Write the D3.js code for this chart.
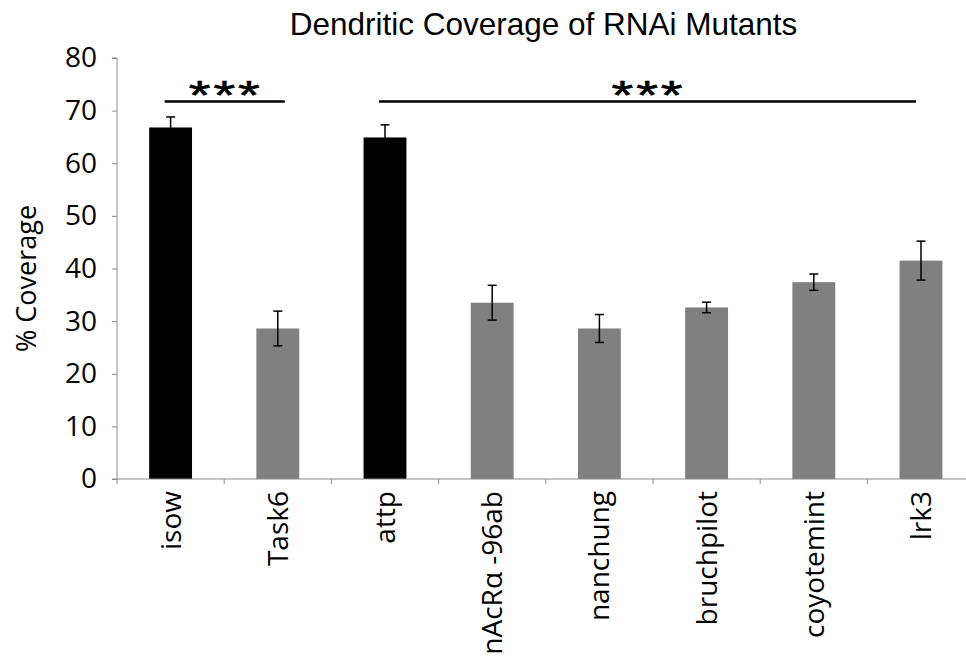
<!DOCTYPE html>
<html><head><meta charset="utf-8">
<script src="https://cdn.jsdelivr.net/npm/d3@7"></script>
<style>body{margin:0;background:#fff}svg{display:block}</style>
</head><body>
<script>
const categories = ["isow","Task6","attp","nAcRα -96ab","nanchung","bruchpilot","coyotemint","lrk3"];
const values = [66.8, 28.6, 64.9, 33.5, 28.6, 32.6, 37.4, 41.5];
const errors = [2.0, 3.3, 2.4, 3.3, 2.65, 1.0, 1.55, 3.7];
const colors = ["#000000","#808080","#000000","#808080","#808080","#808080","#808080","#808080"];
const yTicks = [0,10,20,30,40,50,60,70,80];
const sigGroups = [{from:"isow", to:"Task6", label:"***"}, {from:"attp", to:"lrk3", label:"***"}];
const title = "Dendritic Coverage of RNAi Mutants";
const yTitle = "% Coverage";

const W = 966, H = 662;
const svg = d3.select("body").append("svg").attr("width", W).attr("height", H);
const x0 = 117, yBase = 479, yTop = 58, bandW = 107.2;
const x = d3.scaleBand().domain(categories).range([x0, x0 + bandW*categories.length]).paddingInner(0.6).paddingOuter(0.3);
const y = d3.scaleLinear().domain([0, 80]).range([yBase, yTop]);
const cx = d => x(d) + x.bandwidth()/2;

// bars
svg.selectAll("rect.bar").data(categories).join("rect")
  .attr("x", d => x(d)).attr("width", x.bandwidth())
  .attr("y", (d,i) => y(values[i])).attr("height", (d,i) => yBase - y(values[i]))
  .attr("fill", (d,i) => colors[i]);

// y axis
const yAxis = d3.axisLeft(y).tickValues(yTicks).tickSize(5).tickPadding(15);
const gy = svg.append("g").attr("transform", `translate(${x0},0)`).call(yAxis);
gy.select(".domain").attr("stroke", "#8c8c8c").attr("d", `M-5,${yTop}H0V${yBase}`);
gy.selectAll(".tick line").attr("stroke", "#8c8c8c");
gy.selectAll(".tick text").attr("font-family", "'Open Sans', sans-serif").attr("font-size", 28).attr("fill", "#000");

// x axis
const bounds = d3.range(categories.length + 1).map(i => x0 + i*bandW);
const gx = svg.append("g");
gx.append("line").attr("x1", x0 - 5).attr("x2", bounds[bounds.length-1]).attr("y1", yBase).attr("y2", yBase).attr("stroke", "#8c8c8c");
gx.selectAll("line.t").data(bounds).join("line").attr("class","t")
  .attr("x1", d => d).attr("x2", d => d).attr("y1", yBase).attr("y2", yBase + 5).attr("stroke", "#8c8c8c");
gx.selectAll("text").data(categories).join("text")
  .attr("transform", d => `translate(${cx(d) + 10},${yBase + 12}) rotate(-90)`)
  .attr("text-anchor", "end")
  .attr("font-family", "'Open Sans', sans-serif").attr("font-size", 28).attr("fill", "#000")
  .text(d => d);

// error bars
const eb = svg.append("g").attr("stroke", "#000").attr("stroke-width", 1.5);
categories.forEach((c, i) => {
  const t = y(values[i] + errors[i]), b = y(values[i] - errors[i]);
  eb.append("line").attr("x1", cx(c)).attr("x2", cx(c)).attr("y1", t).attr("y2", b);
  eb.append("line").attr("x1", cx(c)-4.5).attr("x2", cx(c)+4.5).attr("y1", t).attr("y2", t);
  eb.append("line").attr("x1", cx(c)-4.5).attr("x2", cx(c)+4.5).attr("y1", b).attr("y2", b);
});

// significance lines
const sigInset = [[-6, 7], [-6, -5]];
sigGroups.forEach((g, k) => {
  const xa = cx(g.from) + sigInset[k][0];
  const xb = cx(g.to) + sigInset[k][1];
  svg.append("line").attr("x1", xa).attr("x2", xb).attr("y1", 101.5).attr("y2", 101.5).attr("stroke", "#000").attr("stroke-width", 2.5);
  svg.append("text").attr("transform", `translate(${(xa + xb)/2 + 1},109) scale(1.4,1)`).attr("text-anchor", "middle")
    .attr("font-family", "'Liberation Sans', Arial, sans-serif").attr("font-size", 40).attr("letter-spacing", 2)
    .attr("stroke", "#000").attr("stroke-width", 0.6).text(g.label);
});

// titles
svg.append("text").attr("x", 543.5).attr("y", 35).attr("text-anchor", "middle")
  .attr("font-family", "'Liberation Sans', Arial, sans-serif").attr("font-size", 31.5).attr("fill", "#000").text(title);
svg.append("text").attr("transform", `translate(36,${(yTop+yBase)/2 + 10}) rotate(-90)`).attr("text-anchor", "middle")
  .attr("font-family", "'Open Sans', sans-serif").attr("font-size", 27).attr("fill", "#000").text(yTitle);
</script>
</body></html>
